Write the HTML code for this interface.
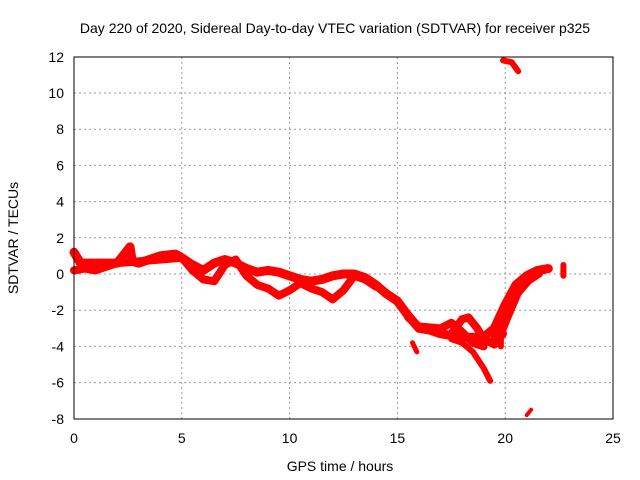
<!DOCTYPE html>
<html><head><meta charset="utf-8"><style>
body{margin:0;background:#fff}
svg{display:block;font-family:"Liberation Sans",sans-serif}
</style></head><body>
<svg id="c" width="640" height="480">
<text x="335" y="33" font-size="14" text-anchor="middle">Day 220 of 2020, Sidereal Day-to-day VTEC variation (SDTVAR) for receiver p325</text>
<g id="grid"></g><g id="ticks"></g><g id="marks"></g>
<rect x="74" y="57" width="539" height="362" fill="none" stroke="#000" stroke-width="1"/>
<text x="340" y="471" font-size="14" text-anchor="middle">GPS time / hours</text>
<text transform="translate(18,238) rotate(-90)" font-size="14" text-anchor="middle">SDTVAR / TECUs</text>
</svg>
<script>
const xTicks=[0,5,10,15,20,25];
const yTicks=[-8,-6,-4,-2,0,2,4,6,8,10,12];
const trackMain=[[0,1.2],[0.3,0.6],[1,0.6],[2,0.6],[2.6,1.5],[2.7,0.7],[3,0.6],[3.5,0.8],[4,1.0],[4.7,1.1],[5,0.9],[5.5,0.5],[6,0.2],[6.5,0.6],[7,0.8],[7.5,0.6],[8,0.3],[8.5,0.1],[9,0.2],[9.5,0.1],[10,-0.1],[10.5,-0.3],[11,-0.4],[11.5,-0.3],[12,-0.1],[12.5,0],[13,0],[13.5,-0.2],[14,-0.6],[14.5,-1.1],[15,-1.5],[15.5,-2.3],[16,-3.0],[16.5,-3.1],[17,-3.3],[17.5,-3.4],[18,-3.5],[18.5,-3.5],[19,-3.5],[19.5,-3.0],[20,-1.7],[20.5,-0.6],[21,-0.1],[21.5,0.2],[22,0.3]];
const trackLow=[[0,0.2],[0.5,0.3],[1,0.2],[2,0.6],[5,0.9],[5.5,0.2],[6,-0.3],[6.5,-0.4],[7,0.5],[7.5,0.8],[8,-0.1],[8.5,-0.6],[9,-0.8],[9.5,-1.2],[10,-0.9],[10.5,-0.5],[11,-0.8],[11.5,-1.0],[12,-1.4],[12.5,-0.9],[13,-0.1],[13.5,-0.3],[14,-0.7]];
const trackLoop=[[17.5,-3.3],[18,-2.5],[18.3,-2.4],[18.7,-3.0],[19,-3.6],[19.5,-3.9],[19.9,-3.3]];
const trackDrop=[[17.5,-3.6],[18,-3.8],[18.5,-4.3],[19,-5.2],[19.3,-5.9]];
const trackDip=[[15.5,-2.4],[16,-2.9],[17,-3.0],[17.5,-2.7],[18,-3.2],[18.5,-3.8],[19,-4.0]];
const trackRise=[[19.6,-3.6],[20,-2.4],[20.5,-1.0],[21,-0.3],[21.5,0.1]];
const trackA=[[15.7,-3.8],[15.9,-4.3]];
const trackB=[[19.8,-4.0],[19.8,-2.8]];
const trackTop=[[19.9,11.8],[20.3,11.7],[20.6,11.2]];
const trackBot=[[21.0,-7.8],[21.2,-7.5]];
const trackEnd=[[22.7,0.5],[22.7,-0.1]];
const X=h=>74+h*21.56, Y=v=>274-v*18.1;
const NS="http://www.w3.org/2000/svg";
function mk(t,a,p){const e=document.createElementNS(NS,t);for(const k in a)e.setAttribute(k,a[k]);p.appendChild(e);return e;}
const grid=document.getElementById('grid'),ticks=document.getElementById('ticks'),marks=document.getElementById('marks');
xTicks.forEach(t=>{
 if(t>0&&t<25){const g=mk('line',{x1:X(t),x2:X(t),y1:57,y2:419,stroke:'#999','stroke-dasharray':'2,3'},grid);
 
 }
 const l=mk('text',{x:X(t),y:443,'font-size':14,'text-anchor':'middle'},ticks);l.textContent=t;
 
 
});
yTicks.forEach(t=>{
 if(t>-8&&t<12){const g=mk('line',{x1:74,x2:613,y1:Y(t),y2:Y(t),stroke:'#999','stroke-dasharray':'2,3'},grid);
 
 }
 const l=mk('text',{x:64,y:Y(t)+5,'font-size':14,'text-anchor':'end'},ticks);l.textContent=t;
 
 
});
const tracks=[[trackMain,9],[trackLow,8],[trackLoop,8],[trackDrop,6],[trackDip,8],[trackRise,12],[trackA,5],[trackB,6],[trackTop,6],[trackBot,4],[trackEnd,6]];
tracks.forEach(([d,w])=>{
 const p=mk('polyline',{points:d.map(q=>X(q[0])+','+Y(q[1])).join(' '),fill:'none',stroke:'#f00','stroke-width':w,'stroke-linejoin':'round','stroke-linecap':'round'},marks);
 
 
});
</script>
</body></html>
